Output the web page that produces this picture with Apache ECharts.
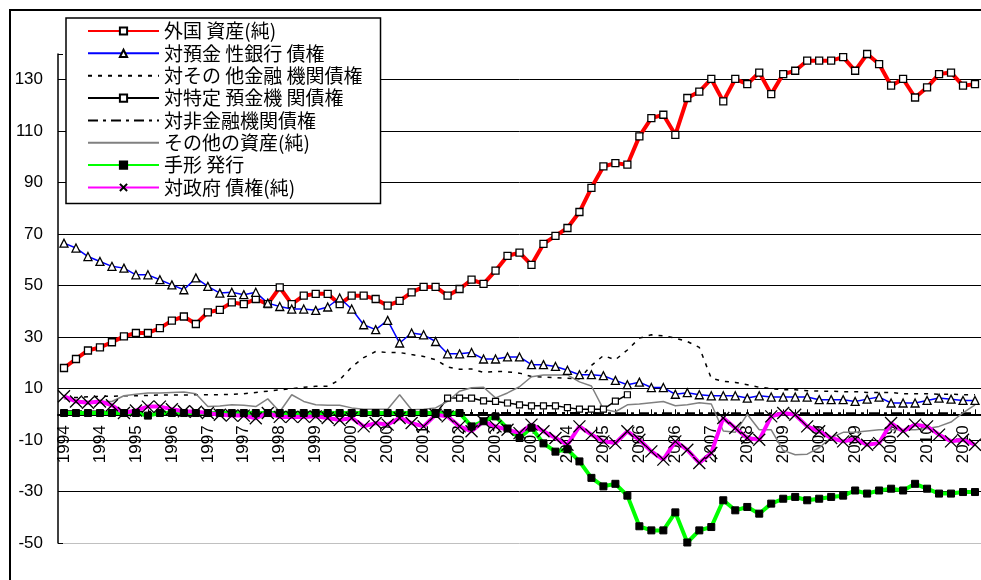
<!DOCTYPE html>
<html>
<head>
<meta charset="utf-8">
<script src="https://cdn.jsdelivr.net/npm/echarts@6/dist/echarts.min.js"></script>
<style>
html, body { margin: 0; padding: 0; background: #fff; }
#container { width: 981px; height: 580px; }
</style>
</head>
<body>
<div id="container"></div>
<script>
// 系列名
var seriesNames = ['外国 資産(純)', '対預金 性銀行 債権', '対その 他金融 機関債権', '対特定 預金機 関債権',
    '対非金融機関債権', 'その他の資産(純)', '手形 発行', '対政府 債権(純)'];

// x軸ラベル（3期ごと）
var yearLabels = ['1994', '1994', '1995', '1996', '1997', '1997', '1998', '1999', '2000', '2000',
    '2001', '2002', '2003', '2003', '2004', '2005', '2006', '2006', '2007', '2008',
    '2009', '2009', '2009', '2009', '2010', '2010'];

// y軸目盛
var yTicks = [-50, -30, -10, 10, 30, 50, 70, 90, 110, 130];

var foreignAssets = [18, 21.5, 24.8, 26, 28, 30.3, 31.6, 31.6, 33.5, 36.4, 38, 35.1, 39.6, 40.6, 43.5, 42.8, 44.8, 42.8, 49.3, 42.8,
    46.1, 46.8, 46.8, 42.8, 46.1, 46.1, 44.8, 42.2, 44.1, 47.4, 49.5, 49.5, 46.1, 48.7, 52.3, 50.7, 55.8, 61.6, 62.8, 58.1,
    66.2, 69.3, 72.4, 78.6, 88, 96.3, 97.6, 97, 108, 115.1, 116.4, 108.6, 122.9, 125.4, 130.3, 121.6, 130.3, 128.3, 132.8, 124.4,
    132.2, 133.5, 137.4, 137.4, 137.4, 138.8, 133.5, 140, 136.1, 127.7, 130.3, 123.1, 127, 132.2, 132.8, 127.7, 128.3];

var depositBanks = [66.5, 64.6, 61.3, 59.4, 57.5, 56.8, 54.2, 54.2, 52.3, 50.3, 48.4, 53, 49.7, 47.1, 47.4, 46.5, 47.4, 43.2, 41.9, 40.9,
    40.9, 40.4, 41.7, 45.2, 40.9, 34.8, 32.9, 36.5, 27.7, 31.6, 30.9, 28.3, 23.5, 23.5, 24, 21.5, 21.5, 22.3, 22.3, 19.3,
    19.3, 18.6, 17.1, 15.4, 15.4, 15, 13.2, 11.5, 12.5, 10.4, 10.4, 7.8, 8.4, 7.6, 7.2, 7.2, 7.2, 6.3, 7.2, 6.7,
    6.7, 6.7, 6.7, 5.7, 5.7, 5.7, 5, 5.9, 6.7, 4.4, 4.4, 4.4, 5.4, 6.3, 5.9, 5.4, 5.4];

var otherFinancial = [6.5, 6.5, 6.8, 7, 7, 7.2, 7.2, 7.3, 7.5, 7.5, 7.5, 7.6, 7.6, 7.6, 7.8, 8, 8.5, 9, 9.5, 10,
    10.5, 10.9, 10.9, 13.4, 18.4, 22, 24.4, 24, 24, 23.2, 22.5, 21.2, 18.4, 17.5, 17.6, 16.3, 16.7, 16.5, 16, 14.7,
    14.5, 14.2, 14, 13.8, 19, 22.8, 21.2, 25, 29.6, 30.9, 30.5, 29.6, 28.3, 26, 14, 12.8, 12.4, 11.5, 10.5, 10,
    9.5, 9.5, 9.2, 9, 9, 8.8, 8.8, 8.5, 8.5, 8.5, 8, 8, 8, 7.8, 7.8, 7.6, 7.6];

var specificDeposit = [null, null, null, null, null, null, null, null, null, null, null, null, null, null, null, null, null, null, null, null,
    null, null, null, null, null, null, null, null, null, null, null, 0, 6.3, 6.3, 6.3, 5.2, 5, 4.4, 3.7, 3.3,
    3.3, 3.3, 2.6, 2, 2, 2, 5.1, 7.6, null, null, null, null, null, null, null, null, null, null, null, null,
    null, null, null, null, null, null, null, null, null, null, null, null, null, null, null, null, null];

var nonFinancial = [1.2, 1.2, 1.1, 1.1, 1.1, 1, 1, 1, 1, 0.9, 0.9, 0.9, 0.9, 0.9, 0.8, 0.8, 0.8, 0.8, 0.8, 0.8,
    0.7, 0.7, 0.7, 0.7, 0.7, 0.7, 0.7, 0.6, 0.6, 0.6, 0.6, 0.6, 0.6, 0.6, 0.5, 0.5, 0.5, 0.5, 0.5, 0.5,
    0.5, 0.5, 0.5, 0.5, 0.5, 0.4, 0.4, 0.4, 0.4, 0.4, 0.4, 0.4, 0.4, 0.4, 0.4, 0.4, 0.4, 0.4, 0.4, 0.4,
    0.4, 0.4, 0.4, 0.4, 0.4, 0.4, 0.4, 0.4, 0.4, 0.4, 0.4, 0.4, 0.4, 0.4, 0.4, 0.4, 0.4];

var otherAssets = [6, 5.5, 5, 5, 5, 7.2, 7.8, 8.3, 8.3, 8.5, 8.7, 8, 3, 3.2, 3.7, 3.5, 3, 6, 1, 7.6,
    5, 3.7, 3.5, 3.5, 2.5, 2, 2, 2, 7.6, 1.8, 2, 2.5, 5, 9, 10.3, 10.5, 6.4, 8.3, 10.7, 14.6,
    15.3, 15.3, 15.3, 12.6, 11, 2, 1, 3.7, 4, 4.5, 5, 3.3, 3.7, 4.5, 4, -6.5, -7, 0, -6, -6,
    -14, -15.7, -15.5, -13, -9, -7, -7, -6.5, -6, -6, -6, -6, -5.5, -4.7, -3, 0.6, 3.7];

var billIssuance = [0.5, 0.5, 0.5, 0.5, 0.5, 0.5, 0.5, -0.5, 0.5, 0.5, 0.5, 0.5, 0.5, 0.5, 0.5, 0.5, 0.5, 0.5, 0.5, 0.5,
    0.5, 0.5, 0.5, 0.5, 0.5, 0.5, 0.5, 0.5, 0.5, 0.5, 0.5, 0.5, 0.5, 0.5, -4.7, -2.7, -0.8, -5.5, -9.2, -5.2,
    -11.3, -14.5, -13.6, -18.3, -24.7, -28, -27, -31.6, -43.5, -45.1, -45.1, -38.1, -49.8, -45.1, -43.8, -33.4, -37.3, -36, -38.6, -34.7,
    -32.8, -32.1, -33.4, -32.8, -32.1, -31.6, -29.6, -30.8, -29.6, -28.9, -29.6, -27, -28.9, -30.8, -30.8, -30.2, -30.2];

var government = [7, 5, 4.5, 5, 3.5, 0.5, 1.5, 3, 3, 2, 1.2, 1, 0.5, -0.2, -0.5, -0.5, -1.5, 0.5, -1, -1,
    -1, -0.8, -1.4, -2.2, -1.4, -4.7, -3.4, -4, -1.4, -3.4, -4.7, -0.2, -0.8, -4.7, -6.6, -2.8, -4.7, -6, -7.3, -4,
    -6.6, -9.2, -11.8, -4.7, -7.9, -10.5, -11.2, -6.6, -9.9, -14.4, -17.6, -10.5, -13.8, -18.9, -15, -1.4, -5.3, -9.2, -9.9, -0.8,
    0.5, -0.2, -4.7, -6.6, -9.2, -10.5, -9.6, -11.8, -11.2, -3.4, -6.6, -4, -4.7, -7.9, -10.5, -9.9, -11.8];

// カテゴリ：3期ごとに年ラベル
var categories = [];
for (var i = 0; i < foreignAssets.length; i++) {
    categories.push(i % 3 === 0 ? yearLabels[i / 3] : '');
}

var dom = document.getElementById('container');
var myChart = echarts.init(dom);

// 軸の範囲と描画領域
var yMin = -50, yMax = 140;
var gridTop = 54, gridBottom = 37;
var plotHeight = 580 - gridTop - gridBottom;
// x軸をゼロの位置まで持ち上げる
var zeroOffset = -plotHeight * (0 - yMin) / (yMax - yMin);

var crossSymbol = 'path://M0,0L10,10M10,0L0,10';
var noMarker = {color: 'rgba(0,0,0,0)', borderWidth: 0};

var option = {
    animation: false,
    backgroundColor: '#fff',
    graphic: [{
        type: 'rect',
        shape: {x: 10, y: 10, width: 1000, height: 600},
        style: {fill: 'none', stroke: '#000', lineWidth: 2},
        silent: true
    }],
    legend: {
        orient: 'vertical',
        left: 66,
        top: 18,
        itemWidth: 71,
        itemHeight: 9,
        itemGap: 2.35,
        padding: [3, 18, 6, 21],
        backgroundColor: '#fff',
        borderColor: '#000',
        borderWidth: 1.5,
        textStyle: {fontFamily: 'Noto Sans CJK JP', fontSize: 19, color: '#000', lineHeight: 20},
        data: seriesNames
    },
    grid: {left: 58, right: 0, top: gridTop, bottom: gridBottom, containLabel: false, outerBoundsMode: 'none'},
    xAxis: {
        type: 'category',
        data: categories,
        boundaryGap: true,
        position: 'bottom',
        offset: zeroOffset,
        axisLine: {onZero: false, lineStyle: {color: '#000', width: 2}},
        axisTick: {show: true, inside: true, length: 5, interval: 0, alignWithLabel: true, lineStyle: {color: '#000'}},
        axisLabel: {interval: 0, rotate: 90, margin: 11, fontSize: 17, color: '#000', fontFamily: 'Liberation Sans'},
        splitLine: {show: false}
    },
    yAxis: {
        type: 'value',
        min: yMin,
        max: yMax,
        interval: 20,
        axisLine: {show: true, lineStyle: {color: '#000', width: 1.5}},
        axisTick: {show: true, inside: true, length: 5, lineStyle: {color: '#000'}},
        axisLabel: {
            margin: 15, fontSize: 17, color: '#000', fontFamily: 'Liberation Sans',
            formatter: function(v) { return yTicks.indexOf(v) >= 0 ? String(v) : ''; }
        },
        splitLine: {
            show: true,
            showMaxLine: false,
            lineStyle: {color: ['#c0c0c0', '#000', '#000', '#000', '#000', '#000', '#000', '#000', '#000', '#000'], width: 1}
        }
    },
    series: [
        {
            name: seriesNames[0], type: 'line', data: foreignAssets, showAllSymbol: true,
            symbol: 'rect', symbolSize: 7,
            lineStyle: {color: '#ff0000', width: 4},
            itemStyle: {color: '#fff', borderColor: '#000', borderWidth: 1.3}
        },
        {
            name: seriesNames[1], type: 'line', data: depositBanks, showAllSymbol: true,
            symbol: 'triangle', symbolSize: 8,
            lineStyle: {color: '#0000ff', width: 1.5},
            itemStyle: {color: '#fff', borderColor: '#000', borderWidth: 1.3}
        },
        {
            name: seriesNames[2], type: 'line', data: otherFinancial, symbol: 'none',
            lineStyle: {color: '#000', width: 1.5, type: [4, 6]},
            itemStyle: noMarker
        },
        {
            name: seriesNames[3], type: 'line', data: specificDeposit, showAllSymbol: true,
            symbol: 'rect', symbolSize: 6,
            lineStyle: {color: '#000', width: 1.5},
            itemStyle: {color: '#fff', borderColor: '#000', borderWidth: 1.2}
        },
        {
            name: seriesNames[4], type: 'line', data: nonFinancial, symbol: 'none',
            lineStyle: {color: '#000', width: 2, type: [10, 5, 3, 5]},
            itemStyle: noMarker
        },
        {
            name: seriesNames[5], type: 'line', data: otherAssets, symbol: 'none',
            lineStyle: {color: '#808080', width: 1.5},
            itemStyle: noMarker
        },
        {
            name: seriesNames[6], type: 'line', data: billIssuance, showAllSymbol: true,
            symbol: 'rect', symbolSize: 7,
            lineStyle: {color: '#00ff00', width: 4},
            itemStyle: {color: '#000', borderColor: '#000', borderWidth: 1}
        },
        {
            name: seriesNames[7], type: 'line', data: government, showAllSymbol: true,
            symbol: crossSymbol, symbolSize: 12,
            lineStyle: {color: '#ff00ff', width: 4},
            itemStyle: {color: 'rgba(0,0,0,0)', borderColor: '#000', borderWidth: 1.3}
        }
    ]
};

myChart.setOption(option, true);
window.onresize = function() {
    myChart.resize();
};
</script>
</body>
</html>
